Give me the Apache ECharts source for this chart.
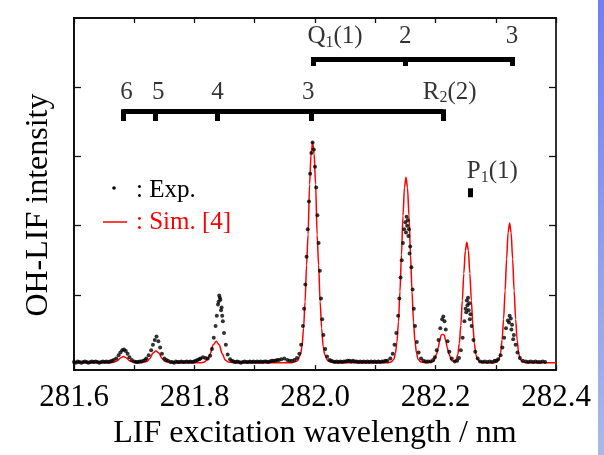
<!DOCTYPE html>
<html>
<head>
<meta charset="utf-8">
<script src="https://cdn.jsdelivr.net/npm/echarts@6/dist/echarts.min.js"></script>
<style>
html,body{margin:0;padding:0;background:#fff;}
#chart{width:604px;height:455px;}
</style>
</head>
<body>
<div id="chart"></div>
<script>
// ---- axis ticks / labels ----
var xTicks = [281.6, 281.7, 281.8, 281.9, 282.0, 282.1, 282.2, 282.3, 282.4];
var xLabels = [281.6, 281.8, 282.0, 282.2, 282.4];
var yTicks = [1, 2, 3, 4];

// ---- simulated spectrum (red line): [wavelength nm, intensity] ----
var simSpectrum = [
 [281.600,0.02],[281.640,0.02],[281.660,0.02],
 [281.667,0.03],[281.672,0.05],[281.677,0.09],[281.682,0.11],[281.687,0.09],[281.692,0.05],[281.697,0.03],
 [281.710,0.02],[281.716,0.03],
 [281.721,0.04],[281.726,0.08],[281.731,0.16],[281.736,0.19],[281.741,0.16],[281.746,0.08],[281.751,0.04],[281.757,0.03],
 [281.770,0.02],[281.810,0.02],[281.816,0.03],
 [281.821,0.06],[281.826,0.15],[281.831,0.28],[281.836,0.33],[281.841,0.28],[281.846,0.15],[281.851,0.06],[281.856,0.03],
 [281.870,0.02],[281.960,0.02],[281.966,0.03],
 [281.971,0.05],[281.976,0.14],[281.9785,0.26],[281.981,0.52],[281.9835,0.90],[281.986,1.43],[281.9885,1.87],[281.991,2.60],
 [281.9935,3.04],[281.996,3.20],[281.9985,3.04],[282.001,2.60],[282.0035,1.87],[282.006,1.43],[282.0085,0.90],[282.011,0.52],
 [282.0135,0.26],[282.016,0.14],[282.021,0.05],[282.026,0.03],
 [282.040,0.02],[282.120,0.02],[282.126,0.03],
 [282.131,0.07],[282.1335,0.16],[282.136,0.32],[282.1385,0.61],[282.141,1.05],[282.1435,1.58],[282.146,2.14],[282.1485,2.55],
 [282.151,2.70],[282.1535,2.55],[282.156,2.14],[282.1585,1.58],[282.161,1.05],[282.1635,0.61],[282.166,0.32],[282.1685,0.16],
 [282.171,0.07],[282.176,0.03],
 [282.186,0.02],[282.192,0.03],
 [282.197,0.04],[282.202,0.15],[282.2045,0.24],[282.207,0.34],[282.2095,0.42],[282.212,0.43],[282.2145,0.42],[282.217,0.34],
 [282.2195,0.24],[282.222,0.15],[282.227,0.05],[282.232,0.04],
 [282.2345,0.07],[282.237,0.14],[282.2395,0.30],[282.242,0.56],[282.2445,0.92],[282.247,1.31],[282.2495,1.64],[282.252,1.76],
 [282.2545,1.64],[282.257,1.31],[282.2595,0.92],[282.262,0.56],[282.2645,0.30],[282.267,0.14],[282.2695,0.07],[282.275,0.03],
 [282.285,0.02],[282.298,0.02],
 [282.303,0.04],[282.3055,0.08],[282.308,0.16],[282.3105,0.35],[282.313,0.65],[282.3155,1.06],[282.318,1.52],[282.3205,1.90],
 [282.323,2.04],[282.3255,1.90],[282.328,1.52],[282.3305,1.06],[282.333,0.65],[282.3355,0.35],[282.338,0.16],[282.3405,0.08],
 [282.343,0.04],[282.350,0.02],[282.400,0.02]
];

// ---- experimental spectrum (black dots): [wavelength nm, intensity] ----
var expSpectrum = [
 [281.600,0.03],[281.603,0.02],[281.606,0.04],[281.609,0.03],[281.612,0.02],[281.615,0.03],[281.618,0.04],[281.621,0.03],
 [281.624,0.02],[281.627,0.03],[281.630,0.04],[281.633,0.03],[281.636,0.04],[281.639,0.03],[281.642,0.02],[281.645,0.03],
 [281.648,0.04],[281.651,0.03],[281.654,0.04],[281.657,0.03],[281.660,0.04],[281.663,0.05],[281.666,0.06],
 [281.670,0.08],[281.674,0.13],[281.677,0.17],[281.680,0.20],[281.683,0.21],[281.686,0.19],[281.689,0.15],[281.692,0.10],
 [281.696,0.06],[281.700,0.04],[281.703,0.03],[281.706,0.03],[281.709,0.04],[281.712,0.04],[281.715,0.05],[281.718,0.06],
 [281.720,0.08],[281.724,0.13],[281.728,0.20],[281.731,0.28],[281.734,0.35],[281.737,0.40],[281.740,0.33],[281.743,0.24],
 [281.746,0.15],[281.750,0.08],[281.753,0.06],[281.756,0.05],[281.760,0.03],[281.763,0.03],[281.766,0.02],[281.769,0.04],
 [281.772,0.03],[281.775,0.03],[281.778,0.04],[281.781,0.03],[281.784,0.03],[281.787,0.04],[281.790,0.03],[281.793,0.04],
 [281.796,0.03],[281.799,0.04],[281.802,0.05],[281.805,0.06],[281.808,0.07],
 [281.810,0.08],[281.814,0.10],[281.818,0.09],[281.822,0.08],[281.826,0.12],
 [281.829,0.22],[281.832,0.38],[281.835,0.55],[281.837,0.70],[281.839,0.86],[281.840,0.90],[281.841,0.99],[281.842,0.96],
 [281.843,0.93],[281.844,0.78],[281.845,0.82],[281.846,0.70],[281.847,0.62],[281.849,0.45],[281.852,0.28],[281.855,0.14],
 [281.859,0.07],[281.862,0.05],[281.865,0.04],[281.868,0.03],[281.871,0.04],[281.874,0.03],[281.877,0.02],[281.880,0.03],
 [281.883,0.04],[281.886,0.03],[281.889,0.03],[281.892,0.04],[281.895,0.03],[281.898,0.04],[281.901,0.03],[281.904,0.04],
 [281.907,0.03],[281.910,0.04],[281.913,0.03],[281.916,0.04],[281.919,0.04],[281.922,0.03],[281.925,0.04],[281.928,0.05],
 [281.931,0.05],[281.934,0.05],[281.937,0.06],[281.940,0.06],
 [281.944,0.07],[281.949,0.08],[281.954,0.06],[281.958,0.05],[281.962,0.05],[281.966,0.06],[281.970,0.09],
 [281.974,0.15],[281.977,0.28],[281.980,0.55],[281.982,0.80],[281.984,1.15],[281.986,1.55],[281.988,1.95],[281.990,2.35],
 [281.992,2.75],[281.994,3.05],[281.996,3.20],[281.998,3.10],[282.000,2.85],[282.002,2.55],[282.004,2.15],[282.006,1.75],
 [282.008,1.35],[282.010,0.95],[282.012,0.65],[282.014,0.42],[282.017,0.22],[282.020,0.11],[282.024,0.06],[282.027,0.05],
 [282.030,0.04],[282.033,0.03],[282.036,0.04],[282.039,0.03],[282.042,0.04],[282.045,0.03],[282.048,0.04],[282.051,0.04],
 [282.054,0.05],[282.057,0.05],[282.060,0.04],[282.063,0.05],[282.066,0.04],[282.069,0.04],[282.072,0.03],[282.075,0.04],
 [282.078,0.03],[282.081,0.04],[282.084,0.03],[282.087,0.04],[282.090,0.03],[282.093,0.04],[282.096,0.03],[282.099,0.04],
 [282.102,0.03],[282.105,0.04],[282.108,0.03],[282.111,0.04],[282.114,0.04],[282.117,0.05],[282.120,0.05],
 [282.125,0.08],[282.129,0.15],[282.132,0.28],[282.135,0.45],[282.138,0.70],[282.140,0.95],[282.142,1.25],[282.144,1.50],
 [282.146,1.75],[282.148,1.95],[282.150,2.05],[282.151,1.90],[282.152,2.13],[282.153,2.00],[282.154,2.08],[282.155,1.85],
 [282.156,1.95],[282.157,1.60],[282.158,1.70],[282.160,1.40],[282.162,1.08],[282.164,0.80],[282.166,0.55],[282.169,0.32],
 [282.172,0.17],[282.176,0.08],[282.180,0.05],[282.184,0.04],[282.188,0.04],[282.192,0.04],[282.196,0.06],
 [282.199,0.10],[282.202,0.20],[282.205,0.35],[282.208,0.52],[282.211,0.65],[282.213,0.69],[282.215,0.62],[282.217,0.50],
 [282.220,0.33],[282.223,0.18],[282.227,0.08],[282.232,0.04],[282.236,0.05],
 [282.239,0.09],[282.242,0.20],[282.245,0.38],[282.248,0.62],[282.250,0.80],[282.251,0.75],[282.252,0.92],[282.253,0.85],
 [282.254,0.96],[282.255,0.78],[282.256,0.88],[282.257,0.65],[282.258,0.72],[282.260,0.55],[282.263,0.35],[282.266,0.18],
 [282.270,0.08],[282.274,0.04],[282.278,0.03],[282.282,0.04],[282.286,0.03],[282.290,0.04],[282.294,0.03],[282.298,0.05],
 [282.301,0.05],[282.304,0.07],
 [282.308,0.13],[282.311,0.24],[282.314,0.38],[282.317,0.52],[282.320,0.63],[282.322,0.60],[282.323,0.70],[282.325,0.66],
 [282.326,0.50],[282.327,0.57],[282.329,0.36],[282.330,0.42],[282.333,0.28],[282.336,0.17],[282.340,0.09],[282.345,0.05],
 [282.350,0.04],[282.354,0.03],[282.358,0.04],[282.362,0.03],[282.366,0.04],[282.370,0.03],[282.374,0.03],[282.378,0.04],
 [282.382,0.03]
];

// ---- band-head assignment brackets ----
var qBranchTicks = [281.9963, 282.1497, 282.3268];           // Q1(1), 2, 3
var rBranchTicks = [281.6815, 281.7352, 281.8383, 281.9937, 282.2124]; // 6,5,4,3,R2(2)
var p1Tick = 282.2583;
var qLevel = 4.405, rLevel = 3.653;

// ---- annotation texts: name, wavelength, intensity level, alignment ----
var annotNames = ['Q_1(1)', '2', '3', '6', '5', '4', '3', 'R_2(2)', 'P_1(1)'];
var annotX     = [281.9875, 282.1497, 282.3268, 281.6870, 281.7400, 281.8383, 281.9890, 282.1790, 282.2520];
var annotY     = [4.73, 4.73, 4.73, 3.93, 3.93, 3.93, 3.93, 3.93, 2.78];
var annotAlign = ['left', 'center', 'center', 'center', 'center', 'center', 'center', 'left', 'left'];

var FONT = 'Liberation Serif';

function richName(s) {
  var m = s.match(/^(\w)_(\d)(.*)$/);
  if (m) return '{t|' + m[1] + '}{s|' + m[2] + '}{t|' + m[3] + '}';
  return '{t|' + s + '}';
}

var bracketLines = [];
bracketLines.push({coords: [[qBranchTicks[0], qLevel], [qBranchTicks[qBranchTicks.length - 1], qLevel]]});
qBranchTicks.forEach(function (x) { bracketLines.push({coords: [[x, qLevel + 0.03], [x, qLevel - 0.10]]}); });
bracketLines.push({coords: [[rBranchTicks[0], rLevel], [rBranchTicks[rBranchTicks.length - 1], rLevel]]});
rBranchTicks.forEach(function (x) { bracketLines.push({coords: [[x, rLevel + 0.03], [x, rLevel - 0.14]]}); });
bracketLines.push({coords: [[p1Tick, 2.54], [p1Tick, 2.41]]});

var annotData = annotNames.map(function (n, i) {
  return {
    name: n, value: [annotX[i], annotY[i]],
    label: {align: annotAlign[i]}
  };
});

var chart = echarts.init(document.getElementById('chart'), null, {renderer: 'canvas'});

var axisLineStyle = {color: '#111', width: 1.8};
var tickStyle = {color: '#111', width: 1.3};
var option = {
  animation: false,
  backgroundColor: '#fff',
  grid: {left: 74, right: 48, top: 18, bottom: 82, show: true, borderColor: '#111', borderWidth: 1.8},
  xAxis: [
    {
      type: 'value', position: 'bottom', min: 281.6, max: 282.4,
      axisLine: {show: true, onZero: false, lineStyle: axisLineStyle},
      axisTick: {show: true, inside: true, length: 5, customValues: xTicks, lineStyle: tickStyle},
      axisLabel: {show: true, customValues: xLabels, margin: 12, fontSize: 31, color: '#000', fontFamily: FONT,
        formatter: function (v) { return v.toFixed(1); }},
      splitLine: {show: false},
      name: 'LIF excitation wavelength / nm', nameLocation: 'middle', nameGap: 46,
      nameTextStyle: {fontSize: 32, color: '#000', fontFamily: FONT}
    },
    {
      type: 'value', position: 'top', min: 281.6, max: 282.4,
      axisLine: {show: true, onZero: false, lineStyle: axisLineStyle},
      axisTick: {show: true, inside: true, length: 5, customValues: xTicks, lineStyle: tickStyle},
      axisLabel: {show: false}, splitLine: {show: false}
    }
  ],
  yAxis: [
    {
      type: 'value', position: 'left', min: -0.086, max: 5,
      axisLine: {show: true, onZero: false, lineStyle: axisLineStyle},
      axisTick: {show: true, inside: true, length: 7, customValues: yTicks, lineStyle: tickStyle},
      axisLabel: {show: false}, splitLine: {show: false},
      name: 'OH-LIF intensity', nameLocation: 'middle', nameGap: 19, nameRotate: 90,
      nameTextStyle: {fontSize: 32, color: '#000', fontFamily: FONT, padding: [0, 22, 0, 0]}
    },
    {
      type: 'value', position: 'right', min: -0.086, max: 5,
      axisLine: {show: true, onZero: false, lineStyle: {color: '#333', width: 2}},
      axisTick: {show: true, inside: true, length: 7, customValues: yTicks, lineStyle: tickStyle},
      axisLabel: {show: false}, splitLine: {show: false}
    }
  ],
  series: [
    {
      name: 'Sim. [4]', type: 'line', data: simSpectrum, showSymbol: false,
      smooth: 0.3, smoothMonotone: 'x',
      lineStyle: {color: '#ff0000', width: 1.5}, z: 2
    },
    {
      name: 'Exp.', type: 'scatter', data: expSpectrum, symbol: 'circle', symbolSize: 4,
      itemStyle: {color: '#000'}, z: 3
    },
    {
      type: 'lines', coordinateSystem: 'cartesian2d', data: bracketLines,
      lineStyle: {color: '#000', width: 5, opacity: 1}, z: 4, silent: true
    },
    {
      type: 'scatter', data: annotData, symbolSize: 1, itemStyle: {color: 'rgba(0,0,0,0)'}, z: 5,
      label: {
        show: true, position: 'inside', verticalAlign: 'middle',
        formatter: function (p) { return richName(p.name); },
        rich: {
          t: {fontSize: 25, fontFamily: FONT, color: '#000', lineHeight: 28},
          s: {fontSize: 16, fontFamily: FONT, color: '#000', lineHeight: 28, verticalAlign: 'bottom', padding: [10, 0, 0, 0]}
        }
      }
    }
  ],
  graphic: [
    {type: 'circle', shape: {cx: 114, cy: 188, r: 1.8}, style: {fill: '#000'}},
    {type: 'text', x: 136, y: 190, style: {text: ': Exp.', font: '25px "Liberation Serif"', fill: '#000', textVerticalAlign: 'middle'}},
    {type: 'line', shape: {x1: 103, y1: 222, x2: 127, y2: 222}, style: {stroke: '#ff0000', lineWidth: 1.5}},
    {type: 'text', x: 136, y: 222, style: {text: ': Sim. [4]', font: '25px "Liberation Serif"', fill: '#ff0000', textVerticalAlign: 'middle'}},
    {type: 'rect', shape: {x: 598, y: 0, width: 6, height: 455},
      style: {fill: new echarts.graphic.LinearGradient(0, 0, 0, 1, [
        {offset: 0, color: '#6f7ff2'}, {offset: 1, color: '#a9b9e6'}])}}
  ]
};
chart.setOption(option);
</script>
</body>
</html>
